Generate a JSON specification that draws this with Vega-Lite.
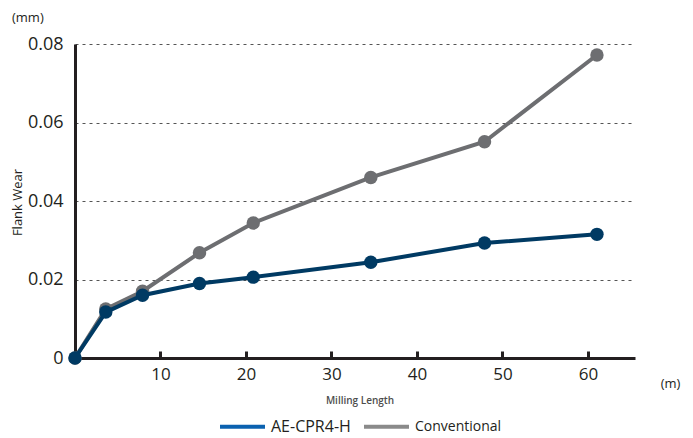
{
  "$schema": "https://vega.github.io/schema/vega-lite/v6.json",
  "width": 560,
  "height": 314,
  "autosize": "none",
  "padding": {"left": 75, "top": 44, "right": 58, "bottom": 80},
  "background": "white",
  "config": {
    "font": "Open Sans",
    "view": {"stroke": null},
    "axis": {"labelFont": "Open Sans", "titleFont": "Open Sans", "labelColor": "#231f20", "titleColor": "#231f20"}
  },
  "title": {"text": "(mm)", "anchor": "start", "frame": "group", "dx": -63, "offset": 10, "fontSize": 13, "fontWeight": "normal", "color": "#231f20", "font": "Open Sans"},
  "data": {
    "values": [
      {"series": "Conventional", "x": 0, "y": 0},
      {"series": "Conventional", "x": 3.6, "y": 0.0125},
      {"series": "Conventional", "x": 7.9, "y": 0.017},
      {"series": "Conventional", "x": 14.56, "y": 0.0268},
      {"series": "Conventional", "x": 20.85, "y": 0.0344},
      {"series": "Conventional", "x": 34.6, "y": 0.046},
      {"series": "Conventional", "x": 47.9, "y": 0.0551},
      {"series": "Conventional", "x": 61.05, "y": 0.0772},
      {"series": "AE-CPR4-H", "x": 0, "y": 0},
      {"series": "AE-CPR4-H", "x": 3.6, "y": 0.0117},
      {"series": "AE-CPR4-H", "x": 7.9, "y": 0.016},
      {"series": "AE-CPR4-H", "x": 14.56, "y": 0.019},
      {"series": "AE-CPR4-H", "x": 20.85, "y": 0.0206},
      {"series": "AE-CPR4-H", "x": 34.6, "y": 0.0244},
      {"series": "AE-CPR4-H", "x": 47.9, "y": 0.0293},
      {"series": "AE-CPR4-H", "x": 61.05, "y": 0.0315}
    ]
  },
  "encoding": {
    "x": {
      "field": "x", "type": "quantitative",
      "scale": {"domain": [0, 65.5], "nice": false, "zero": true},
      "axis": {
        "values": [10, 20, 30, 40, 50, 60],
        "grid": false,
        "domainColor": "#231f20", "domainWidth": 3,
        "tickColor": "#231f20", "tickWidth": 3, "tickSize": -7,
        "labelFontSize": 17, "labelPadding": 15,
        "title": "(m)", "titleFontSize": 13, "titleFontWeight": "normal",
        "titleX": 595, "titleY": 25, "titleAlign": "center", "titleBaseline": "middle"
      }
    },
    "y": {
      "field": "y", "type": "quantitative",
      "scale": {"domain": [0, 0.08], "nice": false},
      "axis": {
        "values": [0, 0.02, 0.04, 0.06, 0.08],
        "labelExpr": "datum.value == 0 ? '0' : format(datum.value, '.2f')",
        "ticks": false,
        "domainColor": "#231f20", "domainWidth": 3,
        "grid": true, "gridColor": "#555555", "gridDash": [3, 4], "gridWidth": 1,
        "labelFontSize": 18, "labelPadding": 12,
        "title": "Flank Wear", "titleFontSize": 13, "titleFontWeight": "normal",
        "titleAngle": -90, "titleX": -58, "titleY": 158, "titleAlign": "center", "titleBaseline": "middle"
      }
    }
  },
  "layer": [
    {
      "mark": {"type": "line", "opacity": 0, "strokeWidth": 4},
      "encoding": {
        "color": {
          "field": "series", "type": "nominal",
          "scale": {"domain": ["AE-CPR4-H", "Conventional"], "range": ["#0b62b0", "#8a8a8a"]},
          "legend": {
            "orient": "none", "legendX": 143, "legendY": 352,
            "direction": "horizontal",
            "title": "Milling Length", "titleOrient": "top", "titleAnchor": "middle",
            "titleFontSize": 10, "titleFontWeight": 600, "titleColor": "#4d4d4d", "titlePadding": -4,
            "symbolType": "stroke", "symbolSize": 2025, "symbolStrokeWidth": 4, "symbolOpacity": 1,
            "labelFontSize": {"expr": "datum.label == 'AE-CPR4-H' ? 16 : 14"},
            "labelColor": "#231f20", "labelOffset": 4, "columnPadding": 5
          }
        }
      }
    },
    {
      "transform": [{"filter": "datum.series == 'Conventional'"}],
      "mark": {"type": "line", "color": "#6d6e71", "strokeWidth": 4}
    },
    {
      "transform": [{"filter": "datum.series == 'Conventional'"}],
      "mark": {"type": "point", "filled": true, "shape": "circle", "size": 180, "color": "#6d6e71", "opacity": 1}
    },
    {
      "transform": [{"filter": "datum.series == 'AE-CPR4-H'"}],
      "mark": {"type": "line", "color": "#003a63", "strokeWidth": 4}
    },
    {
      "transform": [{"filter": "datum.series == 'AE-CPR4-H'"}],
      "mark": {"type": "point", "filled": true, "shape": "circle", "size": 180, "color": "#003a63", "opacity": 1}
    }
  ]
}
